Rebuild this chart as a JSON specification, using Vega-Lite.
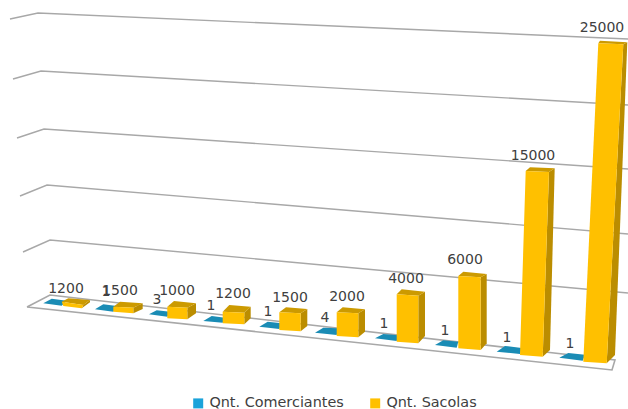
{"$schema":"https://vega.github.io/schema/vega-lite/v6.json","width":628,"height":409,"padding":0,"autosize":{"type":"none"},"background":"white","config":{"view":{"stroke":null}},
"datasets":{
"piso":[{"o":1,"x":2.7,"y":10200},{"o":2,"x":5,"y":11400},{"o":3,"x":61.5,"y":4900},{"o":4,"x":61.2,"y":3900},{"o":5,"x":2.7,"y":10200}],
"grade":[{"nivel":25000,"o":1,"x":1,"y":39000},{"nivel":25000,"o":2,"x":3.8,"y":39600},{"nivel":25000,"o":3,"x":62.8,"y":37000},{"nivel":20000,"o":1,"x":1.3,"y":33000},{"nivel":20000,"o":2,"x":4.1,"y":33800},{"nivel":20000,"o":3,"x":62.8,"y":30400},{"nivel":15000,"o":1,"x":1.7,"y":27100},{"nivel":15000,"o":2,"x":4.4,"y":28000},{"nivel":15000,"o":3,"x":62.8,"y":24000},{"nivel":10000,"o":1,"x":2,"y":21300},{"nivel":10000,"o":2,"x":4.7,"y":22400},{"nivel":10000,"o":3,"x":62.8,"y":17500},{"nivel":5000,"o":1,"x":2.3,"y":15700},{"nivel":5000,"o":2,"x":5,"y":16900},{"nivel":5000,"o":3,"x":62.8,"y":11600}],
"plano":[
{"barra":1,"o":1,"x":4.33,"y":10570},{"barra":1,"o":2,"x":5.17,"y":11030},{"barra":1,"o":3,"x":6.67,"y":10830},{"barra":1,"o":4,"x":6.17,"y":10330},
{"barra":2,"o":1,"x":9.5,"y":9970},{"barra":2,"o":2,"x":10.33,"y":10470},{"barra":2,"o":3,"x":11.67,"y":10300},{"barra":2,"o":4,"x":11.33,"y":9730},
{"barra":3,"o":1,"x":14.9,"y":9470},{"barra":3,"o":2,"x":15.67,"y":9870},{"barra":3,"o":3,"x":17,"y":9730},{"barra":3,"o":4,"x":16.73,"y":9230},
{"barra":4,"o":1,"x":20.33,"y":8800},{"barra":4,"o":2,"x":21.17,"y":9300},{"barra":4,"o":3,"x":22.5,"y":9130},{"barra":4,"o":4,"x":22.27,"y":8630},
{"barra":5,"o":1,"x":25.93,"y":8230},{"barra":5,"o":2,"x":26.77,"y":8730},{"barra":5,"o":3,"x":28.17,"y":8570},{"barra":5,"o":4,"x":27.93,"y":8000},
{"barra":6,"o":1,"x":31.5,"y":7630},{"barra":6,"o":2,"x":32.33,"y":8130},{"barra":6,"o":3,"x":33.83,"y":8070},{"barra":6,"o":4,"x":33.67,"y":7400},
{"barra":7,"o":1,"x":37.5,"y":7070},{"barra":7,"o":2,"x":38.33,"y":7500},{"barra":7,"o":3,"x":39.83,"y":7370},{"barra":7,"o":4,"x":39.67,"y":6800},
{"barra":8,"o":1,"x":43.5,"y":6400},{"barra":8,"o":2,"x":44.33,"y":6870},{"barra":8,"o":3,"x":45.83,"y":6730},{"barra":8,"o":4,"x":45.67,"y":6130},
{"barra":9,"o":1,"x":49.67,"y":5730},{"barra":9,"o":2,"x":50.5,"y":6300},{"barra":9,"o":3,"x":52.17,"y":6100},{"barra":9,"o":4,"x":52,"y":5500},
{"barra":10,"o":1,"x":55.93,"y":5130},{"barra":10,"o":2,"x":56.83,"y":5600},{"barra":10,"o":3,"x":58.5,"y":5430},{"barra":10,"o":4,"x":58.27,"y":4830}],
"topo":[
{"barra":1,"o":1,"x":6.83,"y":11070},{"barra":1,"o":2,"x":9,"y":10900},{"barra":1,"o":3,"x":8.33,"y":10400},{"barra":1,"o":4,"x":6.17,"y":10730},
{"barra":2,"o":1,"x":12,"y":10730},{"barra":2,"o":2,"x":14.27,"y":10570},{"barra":2,"o":3,"x":13.33,"y":10130},{"barra":2,"o":4,"x":11.33,"y":10230},
{"barra":3,"o":1,"x":17.4,"y":10800},{"barra":3,"o":2,"x":19.6,"y":10570},{"barra":3,"o":3,"x":18.73,"y":10130},{"barra":3,"o":4,"x":16.73,"y":10230},
{"barra":4,"o":1,"x":22.93,"y":10400},{"barra":4,"o":2,"x":25.07,"y":10230},{"barra":4,"o":3,"x":24.43,"y":9630},{"barra":4,"o":4,"x":22.27,"y":9730},
{"barra":5,"o":1,"x":28.6,"y":10170},{"barra":5,"o":2,"x":30.73,"y":10000},{"barra":5,"o":3,"x":30.07,"y":9570},{"barra":5,"o":4,"x":27.93,"y":9670},
{"barra":6,"o":1,"x":34.27,"y":10170},{"barra":6,"o":2,"x":36.5,"y":9970},{"barra":6,"o":3,"x":35.83,"y":9570},{"barra":6,"o":4,"x":33.67,"y":9670},
{"barra":7,"o":1,"x":40.17,"y":11970},{"barra":7,"o":2,"x":42.5,"y":11730},{"barra":7,"o":3,"x":41.83,"y":11330},{"barra":7,"o":4,"x":39.67,"y":11470},
{"barra":8,"o":1,"x":46.33,"y":13730},{"barra":8,"o":2,"x":48.67,"y":13500},{"barra":8,"o":3,"x":48.07,"y":13170},{"barra":8,"o":4,"x":45.83,"y":13300},
{"barra":9,"o":1,"x":53,"y":24170},{"barra":9,"o":2,"x":55.47,"y":24070},{"barra":9,"o":3,"x":54.9,"y":23700},{"barra":9,"o":4,"x":52.57,"y":23800},
{"barra":10,"o":1,"x":60,"y":36830},{"barra":10,"o":2,"x":62.73,"y":36670},{"barra":10,"o":3,"x":62.33,"y":36470},{"barra":10,"o":4,"x":59.83,"y":36570}],
"lado":[
{"barra":1,"o":1,"x":8.33,"y":10400},{"barra":1,"o":2,"x":9,"y":10900},{"barra":1,"o":3,"x":9,"y":10670},{"barra":1,"o":4,"x":8.17,"y":10070},
{"barra":2,"o":1,"x":13.33,"y":10130},{"barra":2,"o":2,"x":14.27,"y":10570},{"barra":2,"o":3,"x":14.27,"y":10000},{"barra":2,"o":4,"x":13.33,"y":9570},
{"barra":3,"o":1,"x":18.73,"y":10130},{"barra":3,"o":2,"x":19.6,"y":10570},{"barra":3,"o":3,"x":19.6,"y":9570},{"barra":3,"o":4,"x":18.73,"y":8970},
{"barra":4,"o":1,"x":24.43,"y":9630},{"barra":4,"o":2,"x":25.07,"y":10230},{"barra":4,"o":3,"x":25.07,"y":9070},{"barra":4,"o":4,"x":24.43,"y":8470},
{"barra":5,"o":1,"x":30.07,"y":9570},{"barra":5,"o":2,"x":30.73,"y":10000},{"barra":5,"o":3,"x":30.73,"y":8300},{"barra":5,"o":4,"x":30.07,"y":7770},
{"barra":6,"o":1,"x":35.83,"y":9570},{"barra":6,"o":2,"x":36.5,"y":9970},{"barra":6,"o":3,"x":36.5,"y":7730},{"barra":6,"o":4,"x":35.83,"y":7170},
{"barra":7,"o":1,"x":41.83,"y":11330},{"barra":7,"o":2,"x":42.5,"y":11730},{"barra":7,"o":3,"x":42.5,"y":7300},{"barra":7,"o":4,"x":41.83,"y":6570},
{"barra":8,"o":1,"x":48.07,"y":13170},{"barra":8,"o":2,"x":48.67,"y":13500},{"barra":8,"o":3,"x":48.67,"y":6570},{"barra":8,"o":4,"x":48.07,"y":5900},
{"barra":9,"o":1,"x":54.9,"y":23700},{"barra":9,"o":2,"x":55.47,"y":24070},{"barra":9,"o":3,"x":55,"y":5900},{"barra":9,"o":4,"x":54.27,"y":5230},
{"barra":10,"o":1,"x":62.33,"y":36470},{"barra":10,"o":2,"x":62.73,"y":36670},{"barra":10,"o":3,"x":61.5,"y":5400},{"barra":10,"o":4,"x":60.67,"y":4570}],
"frente":[
{"barra":1,"serie":"Qnt. Sacolas","o":1,"x":6.17,"y":10730},{"barra":1,"serie":"Qnt. Sacolas","o":2,"x":8.33,"y":10400},{"barra":1,"serie":"Qnt. Sacolas","o":3,"x":8.17,"y":10070},{"barra":1,"serie":"Qnt. Sacolas","o":4,"x":6.33,"y":10300},
{"barra":2,"serie":"Qnt. Sacolas","o":1,"x":11.33,"y":10230},{"barra":2,"serie":"Qnt. Sacolas","o":2,"x":13.33,"y":10130},{"barra":2,"serie":"Qnt. Sacolas","o":3,"x":13.33,"y":9570},{"barra":2,"serie":"Qnt. Sacolas","o":4,"x":11.33,"y":9730},
{"barra":3,"serie":"Qnt. Sacolas","o":1,"x":16.73,"y":10230},{"barra":3,"serie":"Qnt. Sacolas","o":2,"x":18.73,"y":10130},{"barra":3,"serie":"Qnt. Sacolas","o":3,"x":18.73,"y":8970},{"barra":3,"serie":"Qnt. Sacolas","o":4,"x":16.73,"y":9070},
{"barra":4,"serie":"Qnt. Sacolas","o":1,"x":22.27,"y":9730},{"barra":4,"serie":"Qnt. Sacolas","o":2,"x":24.43,"y":9630},{"barra":4,"serie":"Qnt. Sacolas","o":3,"x":24.43,"y":8470},{"barra":4,"serie":"Qnt. Sacolas","o":4,"x":22.27,"y":8570},
{"barra":5,"serie":"Qnt. Sacolas","o":1,"x":27.93,"y":9670},{"barra":5,"serie":"Qnt. Sacolas","o":2,"x":30.07,"y":9570},{"barra":5,"serie":"Qnt. Sacolas","o":3,"x":30.07,"y":7770},{"barra":5,"serie":"Qnt. Sacolas","o":4,"x":27.93,"y":7900},
{"barra":6,"serie":"Qnt. Sacolas","o":1,"x":33.67,"y":9670},{"barra":6,"serie":"Qnt. Sacolas","o":2,"x":35.83,"y":9570},{"barra":6,"serie":"Qnt. Sacolas","o":3,"x":35.83,"y":7170},{"barra":6,"serie":"Qnt. Sacolas","o":4,"x":33.67,"y":7300},
{"barra":7,"serie":"Qnt. Sacolas","o":1,"x":39.67,"y":11470},{"barra":7,"serie":"Qnt. Sacolas","o":2,"x":41.83,"y":11330},{"barra":7,"serie":"Qnt. Sacolas","o":3,"x":41.83,"y":6570},{"barra":7,"serie":"Qnt. Sacolas","o":4,"x":39.67,"y":6730},
{"barra":8,"serie":"Qnt. Sacolas","o":1,"x":45.83,"y":13300},{"barra":8,"serie":"Qnt. Sacolas","o":2,"x":48.07,"y":13170},{"barra":8,"serie":"Qnt. Sacolas","o":3,"x":48.07,"y":5900},{"barra":8,"serie":"Qnt. Sacolas","o":4,"x":45.83,"y":6070},
{"barra":9,"serie":"Qnt. Sacolas","o":1,"x":52.57,"y":23800},{"barra":9,"serie":"Qnt. Sacolas","o":2,"x":54.9,"y":23700},{"barra":9,"serie":"Qnt. Sacolas","o":3,"x":54.27,"y":5230},{"barra":9,"serie":"Qnt. Sacolas","o":4,"x":52,"y":5400},
{"barra":10,"serie":"Qnt. Sacolas","o":1,"x":59.83,"y":36570},{"barra":10,"serie":"Qnt. Sacolas","o":2,"x":62.33,"y":36470},{"barra":10,"serie":"Qnt. Sacolas","o":3,"x":60.67,"y":4570},{"barra":10,"serie":"Qnt. Sacolas","o":4,"x":58.33,"y":4730}],
"rotulos":[
{"valor":1200,"x":6.6,"y":12000},{"valor":1500,"x":12,"y":11800},{"valor":1000,"x":17.7,"y":11800},{"valor":1200,"x":23.3,"y":11500},{"valor":1500,"x":29,"y":11100},{"valor":2000,"x":34.7,"y":11200},{"valor":4000,"x":40.6,"y":13000},{"valor":6000,"x":46.5,"y":14900},{"valor":15000,"x":53.3,"y":25300},{"valor":25000,"x":60.2,"y":38100},
{"valor":1,"x":10.6,"y":11700},{"valor":3,"x":15.7,"y":10900},{"valor":1,"x":21.1,"y":10300},{"valor":1,"x":26.8,"y":9700},{"valor":4,"x":32.5,"y":9100},{"valor":1,"x":38.4,"y":8500},{"valor":1,"x":44.5,"y":7800},{"valor":1,"x":50.7,"y":7100},{"valor":1,"x":57,"y":6500}]
},
"encoding":{
"x":{"field":"x","type":"quantitative","scale":{"domain":[0,62.8],"nice":false,"zero":false},"axis":null},
"y":{"field":"y","type":"quantitative","scale":{"domain":[0,40900],"nice":false,"zero":false},"axis":null}
},
"layer":[
{"data":{"name":"grade"},"mark":{"type":"line","stroke":"#a8a8a8","strokeWidth":1.4},"encoding":{"detail":{"field":"nivel"},"order":{"field":"o"}}},
{"data":{"name":"piso"},"mark":{"type":"line","filled":true,"fill":"#ffffff","stroke":"#a8a8a8","strokeWidth":1.6},"encoding":{"order":{"field":"o"}}},
{"data":{"name":"plano"},"mark":{"type":"line","filled":true,"fill":"#1a8cb5","stroke":null},"encoding":{"detail":{"field":"barra"},"order":{"field":"o"}}},
{"data":{"name":"lado"},"mark":{"type":"line","filled":true,"fill":"#bb8d00","stroke":null},"encoding":{"detail":{"field":"barra"},"order":{"field":"o"}}},
{"data":{"name":"topo"},"mark":{"type":"line","filled":true,"fill":"#cc9a00","stroke":null},"encoding":{"detail":{"field":"barra"},"order":{"field":"o"}}},
{"data":{"name":"frente"},"mark":{"type":"line","filled":true,"stroke":null},"encoding":{"detail":{"field":"barra"},"order":{"field":"o"},
"color":{"field":"serie","type":"nominal","scale":{"domain":["Qnt. Comerciantes","Qnt. Sacolas"],"range":["#1ba3da","#ffc000"]},
"legend":{"title":null,"orient":"none","legendX":191,"legendY":396,"direction":"horizontal","symbolType":"square","symbolSize":100,"labelFont":"DejaVu Sans","labelFontSize":14.4,"labelColor":"#404040","columnPadding":24,"symbolStrokeWidth":0}}}},
{"data":{"name":"rotulos"},"mark":{"type":"text","font":"DejaVu Sans","fontSize":14,"fill":"#404040","align":"center","baseline":"middle"},"encoding":{"text":{"field":"valor","type":"quantitative","format":"d"}}}
]}
